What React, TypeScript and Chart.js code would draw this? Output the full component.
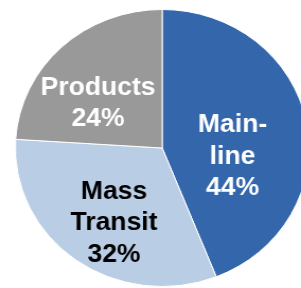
import React, { useEffect, useRef } from "react";
import { Chart, registerables } from "chart.js";

Chart.register(...registerables);

const categories = ["Main-line", "Mass Transit", "Products"];
const shares = [44, 32, 24];
const labelLines = [["Main-", "line"], ["Mass", "Transit"], ["Products"]];

const sliceColors = ["#3366AA", "#B9CDE5", "#999999"];
const labelColors = ["#FFFFFF", "#000000", "#FFFFFF"];
// label block centre as fractions of the radius from the pie centre
const labelOffsets = [
  [0.479, 0.065],
  [-0.328, 0.543],
  [-0.437, -0.319],
];

const labelPlugin = {
  id: "sliceLabels",
  afterDatasetsDraw(chart: any) {
    const ctx = chart.ctx;
    const meta = chart.getDatasetMeta(0);
    ctx.save();
    ctx.font = "bold 25px 'Liberation Sans', Arial, sans-serif";
    ctx.textAlign = "center";
    ctx.textBaseline = "middle";
    const lh = 31.5;
    meta.data.forEach((arc: any, i: number) => {
      const r = arc.outerRadius;
      const cx = arc.x + labelOffsets[i][0] * r;
      const cy = arc.y + labelOffsets[i][1] * r;
      const lines = [...labelLines[i], shares[i] + "%"];
      const startY = cy - ((lines.length - 1) * lh) / 2;
      ctx.fillStyle = labelColors[i];
      lines.forEach((t, j) => ctx.fillText(t, cx, startY + j * lh));
    });
    ctx.restore();
  },
};

export default function App() {
  const ref = useRef<HTMLCanvasElement>(null);
  useEffect(() => {
    document.body.style.margin = "0";
    const chart = new Chart(ref.current!, {
      type: "pie",
      data: {
        labels: categories,
        datasets: [
          {
            data: shares,
            backgroundColor: sliceColors,
            borderColor: "#FFFFFF",
            borderWidth: 1,
          },
        ],
      },
      options: {
        responsive: false,
        animation: false,
        devicePixelRatio: 1,
        layout: { padding: { left: 14, top: 9, right: 8, bottom: 1 } },
        plugins: {
          legend: { display: false },
          tooltip: { enabled: false },
        },
      },
      plugins: [labelPlugin],
    });
    return () => chart.destroy();
  }, []);
  return (
    <div
      style={{
        position: "fixed",
        left: 0,
        top: 0,
        width: 301,
        height: 288,
        overflow: "hidden",
        background: "#FFFFFF",
      }}
    >
      <canvas
        ref={ref}
        width={300}
        height={288}
        style={{
          display: "block",
          transform: "scaleX(1.06)",
          transformOrigin: "0 0",
        }}
      />
    </div>
  );
}
